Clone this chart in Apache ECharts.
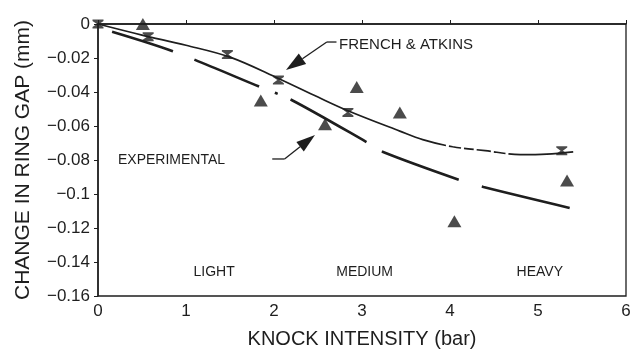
<!DOCTYPE html>
<html>
<head>
<meta charset="utf-8">
<script src="https://cdn.jsdelivr.net/npm/echarts@6/dist/echarts.min.js"></script>
<style>
html,body{margin:0;padding:0;background:#fff;}
#c{width:635px;height:354px;}
</style>
</head>
<body>
<div id="c"></div>
<script>
// ---- data ----
const xTickLabels = ['0', '1', '2', '3', '4', '5', '6'];
const yTickLabels = ['−0.16', '−0.14', '−0.12', '−0.1', '−0.08', '−0.06', '−0.04', '−0.02', '0'];

// Experimental measurements (filled triangles)
const expPointX = [0.51, 1.85, 2.58, 2.94, 3.43, 4.05, 5.33];
const expPointY = [0.0, -0.045, -0.059, -0.037, -0.052, -0.116, -0.092];

// French & Atkins values (hourglass markers)
const faPointX = [0.0, 0.57, 1.47, 2.05, 2.84, 5.27];
const faPointY = [0.0, -0.0075, -0.018, -0.033, -0.052, -0.0745];

// French & Atkins fitted curve
const faCurveX = [0, 0.5, 1.0, 1.5, 2.05, 2.5, 2.84, 3.43, 3.69, 4.03, 4.4, 4.8, 5.1, 5.4];
const faCurveY = [0, -0.0065, -0.0125, -0.0195, -0.032, -0.043, -0.051, -0.063, -0.068, -0.0722, -0.0745, -0.0768, -0.0765, -0.0752];

// Experimental fitted curve
const expCurveX = [0.16, 0.85, 1.84, 2.2, 3.07, 3.24, 4.11, 4.38, 5.36];
const expCurveY = [-0.0045, -0.016, -0.037, -0.0447, -0.070, -0.0753, -0.0918, -0.0959, -0.1082];

const zip = (a, b) => a.map((v, i) => [v, b[i]]);
const INK = '#1e1e1e';
const FONT = '"Liberation Sans", Arial, sans-serif';

const chart = echarts.init(document.getElementById('c'), null, {renderer: 'canvas'});

const option = {
  backgroundColor: '#fff',
  animation: false,
  grid: {left: 98, right: 9, top: 24, bottom: 58, show: true, borderColor: INK, borderWidth: 1.3, backgroundColor: 'transparent'},
  xAxis: {
    type: 'value', min: 0, max: 6, interval: 1,
    name: 'KNOCK INTENSITY (bar)', nameLocation: 'middle', nameGap: 33,
    nameTextStyle: {fontFamily: FONT, fontSize: 20, color: INK},
    axisLine: {show: true, lineStyle: {color: INK, width: 1.5}},
    axisTick: {show: true, inside: true, length: 4, lineStyle: {color: INK}},
    axisLabel: {fontFamily: FONT, fontSize: 17, color: INK, margin: 7,
      formatter: (v) => xTickLabels[Math.round(v)]},
    splitLine: {show: false}
  },
  yAxis: {
    type: 'value', min: -0.16, max: 0, interval: 0.02,
    name: 'CHANGE IN RING GAP (mm)', nameLocation: 'middle', nameGap: 64, nameRotate: 90,
    nameTextStyle: {fontFamily: FONT, fontSize: 21, color: INK},
    axisLine: {show: true, onZero: false, lineStyle: {color: INK, width: 1.5}},
    axisTick: {show: true, inside: false, length: 4, lineStyle: {color: INK}},
    axisLabel: {fontFamily: FONT, fontSize: 17, color: INK, margin: 8,
      formatter: (v) => yTickLabels[Math.round((v + 0.16) / 0.02)]},
    splitLine: {show: false}
  },
  series: [
    {
      name: 'French & Atkins curve', type: 'line', data: zip(faCurveX, faCurveY),
      smooth: 0.35, showSymbol: false, symbol: 'none',
      lineStyle: {color: INK, width: 1.7, type: [370, 3, 12, 3, 10, 3, 14, 3, 12, 3, 400]},
      z: 2
    },
    {
      name: 'Experimental curve', type: 'line', data: zip(expCurveX, expCurveY),
      smooth: 0.3, showSymbol: false, symbol: 'none',
      lineStyle: {color: INK, width: 2.6, type: [64, 23, 70, 17, 3, 14, 87, 18, 82, 24, 200]},
      z: 2
    },
    {
      name: 'Experimental', type: 'scatter', data: zip(expPointX, expPointY),
      symbol: 'triangle', symbolSize: [14, 12],
      itemStyle: {color: INK}, z: 5
    },
    {
      name: 'French & Atkins', type: 'scatter', data: zip(faPointX, faPointY),
      symbol: 'path://M0,0L12,0L12,1.6L7.2,5L12,8.4L12,10L0,10L0,8.4L4.8,5L0,1.6Z',
      symbolSize: [11, 9],
      itemStyle: {color: INK}, z: 5
    }
  ]
};
chart.setOption(option);

// ---- annotations placed via the chart's own scales ----
const P = (x, y) => chart.convertToPixel({gridIndex: 0}, [x, y]);

function arrow(tail, tip, len, half) {
  const dx = tip[0] - tail[0], dy = tip[1] - tail[1];
  const L = Math.hypot(dx, dy);
  const ux = dx / L, uy = dy / L;
  const bx = tip[0] - ux * len, by = tip[1] - uy * len;
  const px = -uy * half, py = ux * half;
  return [
    {type: 'line', shape: {x1: tail[0], y1: tail[1], x2: bx, y2: by}, style: {stroke: INK, lineWidth: 1.3}, z: 10},
    {type: 'polygon', shape: {points: [[tip[0], tip[1]], [bx + px, by + py], [bx - px, by - py]]}, style: {fill: INK}, z: 10}
  ];
}

function label(text, x, y, align, size) {
  const p = P(x, y);
  return {type: 'text', x: p[0], y: p[1], z: 10,
    style: {text: text, fill: INK, font: size + 'px ' + FONT, align: align, verticalAlign: 'middle'}};
}

const faTail = P(2.6, -0.0106), faTip = P(2.136, -0.0271), faDashEnd = P(2.71, -0.0106);
const exDashStart = P(1.98, -0.0794), exTail = P(2.12, -0.0794), exTip = P(2.466, -0.0653);

const graphics = [
  label('LIGHT', 1.32, -0.146, 'center', 14),
  label('MEDIUM', 3.03, -0.146, 'center', 14),
  label('HEAVY', 5.02, -0.146, 'center', 14),
  label('EXPERIMENTAL', 0.227, -0.080, 'left', 14),
  label('FRENCH & ATKINS', 2.74, -0.0124, 'left', 15),
  {type: 'line', shape: {x1: faTail[0], y1: faTail[1], x2: faDashEnd[0], y2: faDashEnd[1]}, style: {stroke: INK, lineWidth: 1.3}, z: 10},
  {type: 'line', shape: {x1: exDashStart[0], y1: exDashStart[1], x2: exTail[0], y2: exTail[1]}, style: {stroke: INK, lineWidth: 1.3}, z: 10}
].concat(arrow(faTail, faTip, 20, 6.5), arrow(exTail, exTip, 19, 6));

chart.setOption({graphic: {elements: graphics}});
</script>
</body>
</html>
